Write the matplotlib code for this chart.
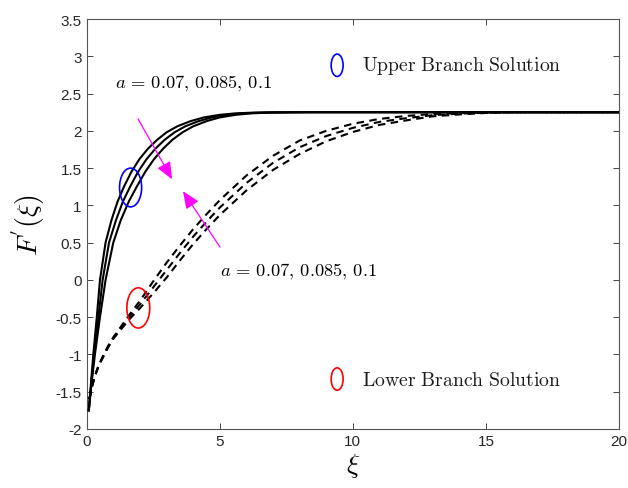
import matplotlib
matplotlib.use("Agg")
import matplotlib.pyplot as plt
from matplotlib.patches import Ellipse
import numpy as np

plt.rcParams['mathtext.fontset'] = 'cm'
plt.rcParams['font.family'] = ['Liberation Sans', 'DejaVu Sans']

# upper branch (solid), a = 0.07, 0.085, 0.1
up_y = [-1.75, -1.4, -1.0, -0.5, 0.0, 0.5, 0.8, 1.05, 1.25, 1.45, 1.62, 1.76,
        1.88, 1.98, 2.06, 2.13, 2.18, 2.215, 2.235, 2.245, 2.25, 2.25]
up_x1 = [0.08, 0.16, 0.25, 0.38, 0.5, 0.71, 0.93, 1.16, 1.4, 1.68, 1.98, 2.3,
         2.65, 3.0, 3.4, 3.9, 4.4, 5.0, 5.6, 6.3, 7.5, 20]
up_x2 = [0.08, 0.17, 0.28, 0.44, 0.6, 0.84, 1.1, 1.36, 1.63, 1.93, 2.25, 2.58,
         2.93, 3.3, 3.7, 4.2, 4.7, 5.3, 5.9, 6.6, 8.0, 20]
up_x3 = [0.08, 0.18, 0.31, 0.5, 0.71, 1.0, 1.28, 1.58, 1.88, 2.2, 2.53, 2.87,
         3.22, 3.6, 4.0, 4.5, 5.0, 5.6, 6.2, 6.9, 8.5, 20]

# lower branch (dashed)
lo_x = [0.1, 0.2, 0.3, 0.45, 0.6, 0.8, 1.0, 1.3, 1.6, 2.0, 2.5, 3.0, 3.5, 4.0,
        4.5, 5.0, 6.0, 7.0, 8.0, 9.0, 10, 11, 12, 13, 14, 15, 16, 20]
lo_y1 = [-1.6, -1.43, -1.3, -1.15, -1.03, -0.89, -0.77, -0.62, -0.47, -0.28,
         -0.02, 0.23, 0.46, 0.68, 0.88, 1.07, 1.4, 1.665, 1.87, 2.0, 2.095, 2.16,
         2.2, 2.225, 2.24, 2.25, 2.25, 2.25]
lo_y2 = [-1.6, -1.43, -1.3, -1.15, -1.04, -0.9, -0.78, -0.64, -0.5, -0.33,
         -0.1, 0.13, 0.36, 0.58, 0.78, 0.97, 1.3, 1.57, 1.78, 1.93, 2.04, 2.12,
         2.17, 2.21, 2.23, 2.245, 2.25, 2.25]
lo_y3 = [-1.6, -1.43, -1.3, -1.15, -1.05, -0.91, -0.79, -0.66, -0.53, -0.38,
         -0.18, 0.03, 0.26, 0.48, 0.68, 0.87, 1.2, 1.475, 1.69, 1.86, 1.985,
         2.08, 2.14, 2.195, 2.22, 2.24, 2.25, 2.25]

xticks = [0, 5, 10, 15, 20]
yticks = [-2, -1.5, -1, -0.5, 0, 0.5, 1, 1.5, 2, 2.5, 3, 3.5]
ytick_labels = ['-2', '-1.5', '-1', '-0.5', '0', '0.5', '1', '1.5', '2', '2.5', '3', '3.5']

fig = plt.figure(figsize=(6.28, 4.89), dpi=100)
ax = fig.add_axes([0.138, 0.1207, 0.8477, 0.8383])

for xs in (up_x1, up_x2, up_x3):
    ax.plot(xs, up_y, color='black', lw=1.5, zorder=3)
for ys in (lo_y1, lo_y2, lo_y3):
    ax.plot(lo_x, ys, color='black', lw=1.5, dashes=(3.6, 2.6), zorder=3)

# ellipses marking the branches
ax.add_patch(Ellipse((1.65, 1.24), 0.83, 0.52, fill=False, ec='#0000ff', lw=1.2, zorder=4))
ax.add_patch(Ellipse((1.94, -0.376), 0.86, 0.54, fill=False, ec='#ff0000', lw=1.2, zorder=4))
ax.add_patch(Ellipse((9.41, 2.88), 0.45, 0.3, fill=False, ec='#0000ff', lw=1.2))
ax.add_patch(Ellipse((9.41, -1.33), 0.45, 0.3, fill=False, ec='#ff0000', lw=1.2))

ax.text(10.35, 2.88, r'$\mathrm{Upper\ Branch\ Solution}$', fontsize=14.2,
        va='center', ha='left', color='#1a1a1a')
ax.text(10.35, -1.33, r'$\mathrm{Lower\ Branch\ Solution}$', fontsize=14.2,
        va='center', ha='left', color='#1a1a1a')
ax.text(1.07, 2.64, r'$a\,=\,0.07,\,0.085,\,0.1$', fontsize=13.3, va='center', ha='left')
ax.text(5.01, 0.12, r'$a\,=\,0.07,\,0.085,\,0.1$', fontsize=13.3, va='center', ha='left')

# magenta arrows
arrow_kw = dict(arrowstyle='-|>,head_length=0.75,head_width=0.32', color='#ff00ff',
                lw=0.9, shrinkA=0, shrinkB=0, mutation_scale=14)
ax.annotate('', xy=(3.21, 1.35), xytext=(1.93, 2.16), arrowprops=arrow_kw, zorder=5)
ax.annotate('', xy=(3.62, 1.19), xytext=(5.01, 0.44), arrowprops=arrow_kw, zorder=5)

ax.set_xlim(0, 20)
ax.set_ylim(-2, 3.5)
ax.set_xticks(xticks)
ax.set_xticklabels([str(t) for t in xticks])
ax.set_yticks(yticks)
ax.set_yticklabels(ytick_labels)
ax.tick_params(direction='in', length=4, width=0.6, top=True, right=True,
               labelsize=11, colors='#262626')
for s in ax.spines.values():
    s.set_color('#555555')
    s.set_linewidth(0.8)

ax.set_xlabel(r'$\xi$', fontsize=20, labelpad=2)
ax.set_ylabel(r"$F^{'}(\xi)$", fontsize=20, labelpad=6)

fig.savefig('out.png', dpi=100)
